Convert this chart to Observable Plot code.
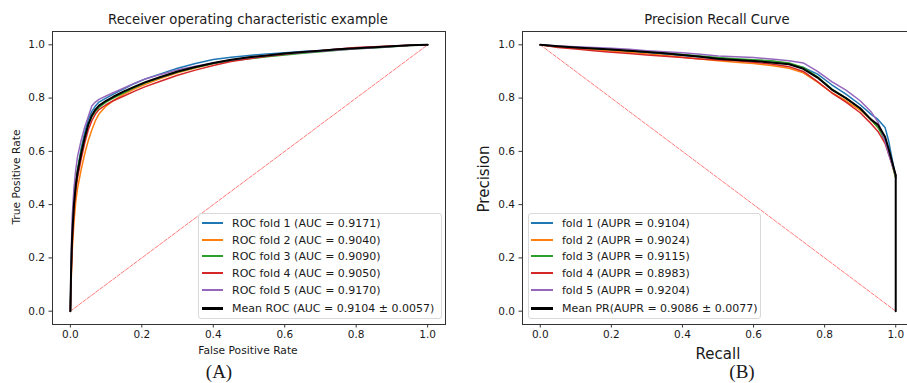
<!DOCTYPE html>
<html><head><meta charset="utf-8">
<script src="https://cdn.jsdelivr.net/npm/d3@7"></script>
<script src="https://cdn.jsdelivr.net/npm/@observablehq/plot@0.6"></script>
<style>
html,body{margin:0;padding:0;background:#fff;}
#wrap{position:relative;width:907px;height:383px;overflow:hidden;background:#fff;font-family:"DejaVu Sans",sans-serif;color:#1a1a1a;}
.abs{position:absolute;white-space:nowrap;line-height:1;}
.c{transform:translate(-50%,-50%);}
.rot{transform:translate(-50%,-50%) rotate(-90deg);}
.legend{position:absolute;border:1px solid #d9d9d9;border-radius:3px;background:rgba(255,255,255,0.85);box-sizing:border-box;}
.sw{position:absolute;height:2px;}
.lt{position:absolute;font-size:11px;white-space:nowrap;transform:translateY(-50%);line-height:1;}
svg{position:absolute;top:0;}
</style></head><body><div id="wrap"></div>
<script>
// ---------- data ----------
const rocTitle = "Receiver operating characteristic example";
const prTitle = "Precision Recall Curve";
const rocLabels = ["ROC fold 1 (AUC = 0.9171)","ROC fold 2 (AUC = 0.9040)","ROC fold 3 (AUC = 0.9090)","ROC fold 4 (AUC = 0.9050)","ROC fold 5 (AUC = 0.9170)","Mean ROC (AUC = 0.9104 ± 0.0057)"];
const prLabels = ["fold 1 (AUPR = 0.9104)","fold 2 (AUPR = 0.9024)","fold 3 (AUPR = 0.9115)","fold 4 (AUPR = 0.8983)","fold 5 (AUPR = 0.9204)","Mean PR(AUPR = 0.9086 ± 0.0077)"];
const seriesColors = ["#1f77b4","#ff7f0e","#2ca02c","#d62728","#9467bd","#000000"];
const tickValues = [0,0.2,0.4,0.6,0.8,1.0];

const rocFpr = [0,0.002,0.005,0.01,0.015,0.02,0.03,0.04,0.05,0.06,0.07,0.08,0.1,0.12,0.15,0.18,0.21,0.25,0.3,0.35,0.4,0.45,0.5,0.55,0.6,0.65,0.7,0.75,0.8,0.85,0.9,0.95,1];
const rocTpr1 = [0,0.14,0.27,0.39,0.47,0.53,0.61,0.67,0.72,0.75,0.77,0.785,0.80,0.815,0.835,0.855,0.872,0.89,0.912,0.93,0.945,0.953,0.96,0.966,0.97,0.975,0.979,0.984,0.988,0.992,0.995,0.998,1];
const rocTpr2 = [0,0.10,0.22,0.33,0.41,0.46,0.53,0.59,0.64,0.68,0.715,0.74,0.77,0.79,0.815,0.835,0.852,0.872,0.895,0.913,0.93,0.942,0.952,0.96,0.966,0.972,0.977,0.982,0.987,0.991,0.995,0.998,1];
const rocTpr3 = [0,0.16,0.30,0.41,0.48,0.53,0.60,0.655,0.70,0.73,0.75,0.765,0.785,0.80,0.82,0.84,0.857,0.876,0.898,0.915,0.93,0.94,0.948,0.955,0.962,0.968,0.974,0.98,0.985,0.988,0.993,0.997,1];
const rocTpr4 = [0,0.12,0.25,0.37,0.45,0.50,0.57,0.63,0.68,0.715,0.74,0.757,0.775,0.79,0.808,0.826,0.843,0.862,0.886,0.905,0.922,0.937,0.948,0.957,0.965,0.972,0.978,0.984,0.99,0.993,0.996,0.998,1];
const rocTpr5 = [0,0.20,0.35,0.46,0.53,0.58,0.64,0.69,0.73,0.77,0.785,0.795,0.808,0.82,0.838,0.856,0.872,0.888,0.906,0.92,0.932,0.943,0.952,0.96,0.966,0.971,0.976,0.981,0.985,0.989,0.994,0.998,1];
const rocTprMean = [0,0.15,0.28,0.40,0.47,0.52,0.59,0.65,0.70,0.735,0.757,0.772,0.79,0.805,0.825,0.843,0.86,0.878,0.90,0.917,0.932,0.944,0.953,0.96,0.967,0.973,0.978,0.983,0.987,0.991,0.995,0.998,1];

const prRecall = [0,0.05,0.1,0.15,0.2,0.25,0.3,0.35,0.4,0.45,0.5,0.55,0.6,0.65,0.7,0.74,0.78,0.82,0.86,0.9,0.93,0.95,0.97,0.98,0.99,1];
const prPrec1 = [1,0.994,0.99,0.985,0.98,0.976,0.97,0.965,0.96,0.955,0.948,0.944,0.94,0.935,0.928,0.915,0.89,0.85,0.815,0.775,0.74,0.72,0.69,0.64,0.57,0.50];
const prPrec2 = [1,0.993,0.987,0.982,0.977,0.972,0.966,0.96,0.953,0.947,0.94,0.935,0.93,0.922,0.912,0.895,0.86,0.82,0.79,0.755,0.72,0.69,0.65,0.60,0.55,0.50];
const prPrec3 = [1,0.992,0.99,0.986,0.982,0.978,0.974,0.969,0.964,0.958,0.952,0.948,0.944,0.94,0.932,0.915,0.88,0.835,0.80,0.76,0.72,0.69,0.64,0.60,0.55,0.50];
const prPrec4 = [1,0.99,0.984,0.978,0.972,0.967,0.962,0.957,0.952,0.947,0.943,0.94,0.935,0.928,0.918,0.90,0.862,0.82,0.785,0.745,0.705,0.675,0.63,0.59,0.55,0.51];
const prPrec5 = [1,0.996,0.993,0.99,0.987,0.983,0.978,0.974,0.97,0.965,0.958,0.955,0.952,0.947,0.94,0.932,0.90,0.862,0.83,0.79,0.75,0.71,0.64,0.59,0.55,0.51];
const prRecallMean = [0,0.05,0.1,0.15,0.2,0.25,0.3,0.35,0.4,0.45,0.5,0.55,0.6,0.65,0.7,0.74,0.78,0.82,0.86,0.9,0.93,0.95,0.97,0.98,0.99,1,1];
const prPrecMean = [1,0.995,0.99,0.986,0.982,0.978,0.973,0.968,0.962,0.955,0.948,0.943,0.939,0.934,0.927,0.91,0.877,0.832,0.80,0.762,0.72,0.70,0.655,0.61,0.56,0.51,0];

const rocDiagX = [0,1], rocDiagY = [0,1];
const prDiagX = [0,1], prDiagY = [1,0];

// ---------- build ----------
const wrap = document.getElementById("wrap");
const rows = (xs, ys) => xs.map((x,i)=>({x, y: ys[i]}));
const fmt = d3.format(".1f");

function chart(series, diag, opts){
  const marks = [
    Plot.line(rows(diag[0], diag[1]), {x:"x", y:"y", stroke:"#ff4040", strokeOpacity:0.7, strokeWidth:1, strokeDasharray:"3.7,1.6"}),
  ];
  series.forEach((s,i)=>{
    marks.push(Plot.line(rows(s[0], s[1]), {x:"x", y:"y", stroke: seriesColors[i], strokeWidth: i===5 ? 2 : 1.5, curve:"linear"}));
  });
  marks.push(Plot.frame({stroke:"#333", strokeWidth:1}));
  marks.push(Plot.axisX({ticks: tickValues, tickFormat: fmt, tickSize: 3.5, tickPadding: 3, label: null, stroke:"#333"}));
  marks.push(Plot.axisY({ticks: tickValues, tickFormat: fmt, tickSize: 3.5, tickPadding: 4, label: null, stroke:"#333"}));
  const svg = Plot.plot({
    width: opts.width, height: 383,
    marginLeft: opts.ml, marginRight: opts.mr, marginTop: 31, marginBottom: 383-324,
    x:{domain:[-0.05,1.05]}, y:{domain:[-0.05,1.05]},
    style:{fontFamily:"DejaVu Sans", fontSize:"10.5px", color:"#1a1a1a", background:"transparent", overflow:"visible"},
    marks
  });
  svg.style.left = opts.left + "px";
  wrap.appendChild(svg);
}

chart([[rocFpr,rocTpr1],[rocFpr,rocTpr2],[rocFpr,rocTpr3],[rocFpr,rocTpr4],[rocFpr,rocTpr5],[rocFpr,rocTprMean]],
      [rocDiagX, rocDiagY], {width:455, ml:52, mr:10, left:0});
chart([[prRecall,prPrec1],[prRecall,prPrec2],[prRecall,prPrec3],[prRecall,prPrec4],[prRecall,prPrec5],[prRecallMean,prPrecMean]],
      [prDiagX, prDiagY], {width:460, ml:67, mr:2, left:455});

function text(str, x, y, css, cls){
  const d = document.createElement("div");
  d.className = "abs " + (cls||"c");
  d.style.left = x+"px"; d.style.top = y+"px";
  d.style.cssText += css;
  d.textContent = str;
  wrap.appendChild(d);
}
text(rocTitle, 248, 20, "font-size:13.2px;");
text(prTitle, 717, 20, "font-size:13.2px;");
text("False Positive Rate", 248, 351, "font-size:10.7px;");
text("True Positive Rate", 17, 177, "font-size:10.7px;", "rot");
text("Recall", 718, 354, "font-size:15px;");
text("Precision", 484, 179, "font-size:15px;", "rot");
text("(A)", 219, 371, "font-size:19px;font-family:'Liberation Serif',serif;");
text("(B)", 742, 371, "font-size:19px;font-family:'Liberation Serif',serif;");

function legend(labels, box, swX, swW, txX){
  const b = document.createElement("div");
  b.className = "legend";
  b.style.left = box[0]+"px"; b.style.top = box[1]+"px";
  b.style.width = box[2]+"px"; b.style.height = box[3]+"px";
  wrap.appendChild(b);
  const ys = [223,239.5,256,273,290,308];
  labels.forEach((lab,i)=>{
    const s = document.createElement("div");
    s.className = "sw";
    s.style.left = swX+"px"; s.style.top = (ys[i]-1)+"px"; s.style.width = swW+"px";
    s.style.background = seriesColors[i];
    if(i===5) { s.style.height="2.5px"; }
    wrap.appendChild(s);
    const t = document.createElement("div");
    t.className = "lt";
    t.style.left = txX+"px"; t.style.top = ys[i]+"px";
    t.textContent = lab;
    wrap.appendChild(t);
  });
}
legend(rocLabels, [198,213,244,106], 202, 21, 232);
legend(prLabels, [528,213,233,106], 531, 22, 562);
</script>
</body></html>
